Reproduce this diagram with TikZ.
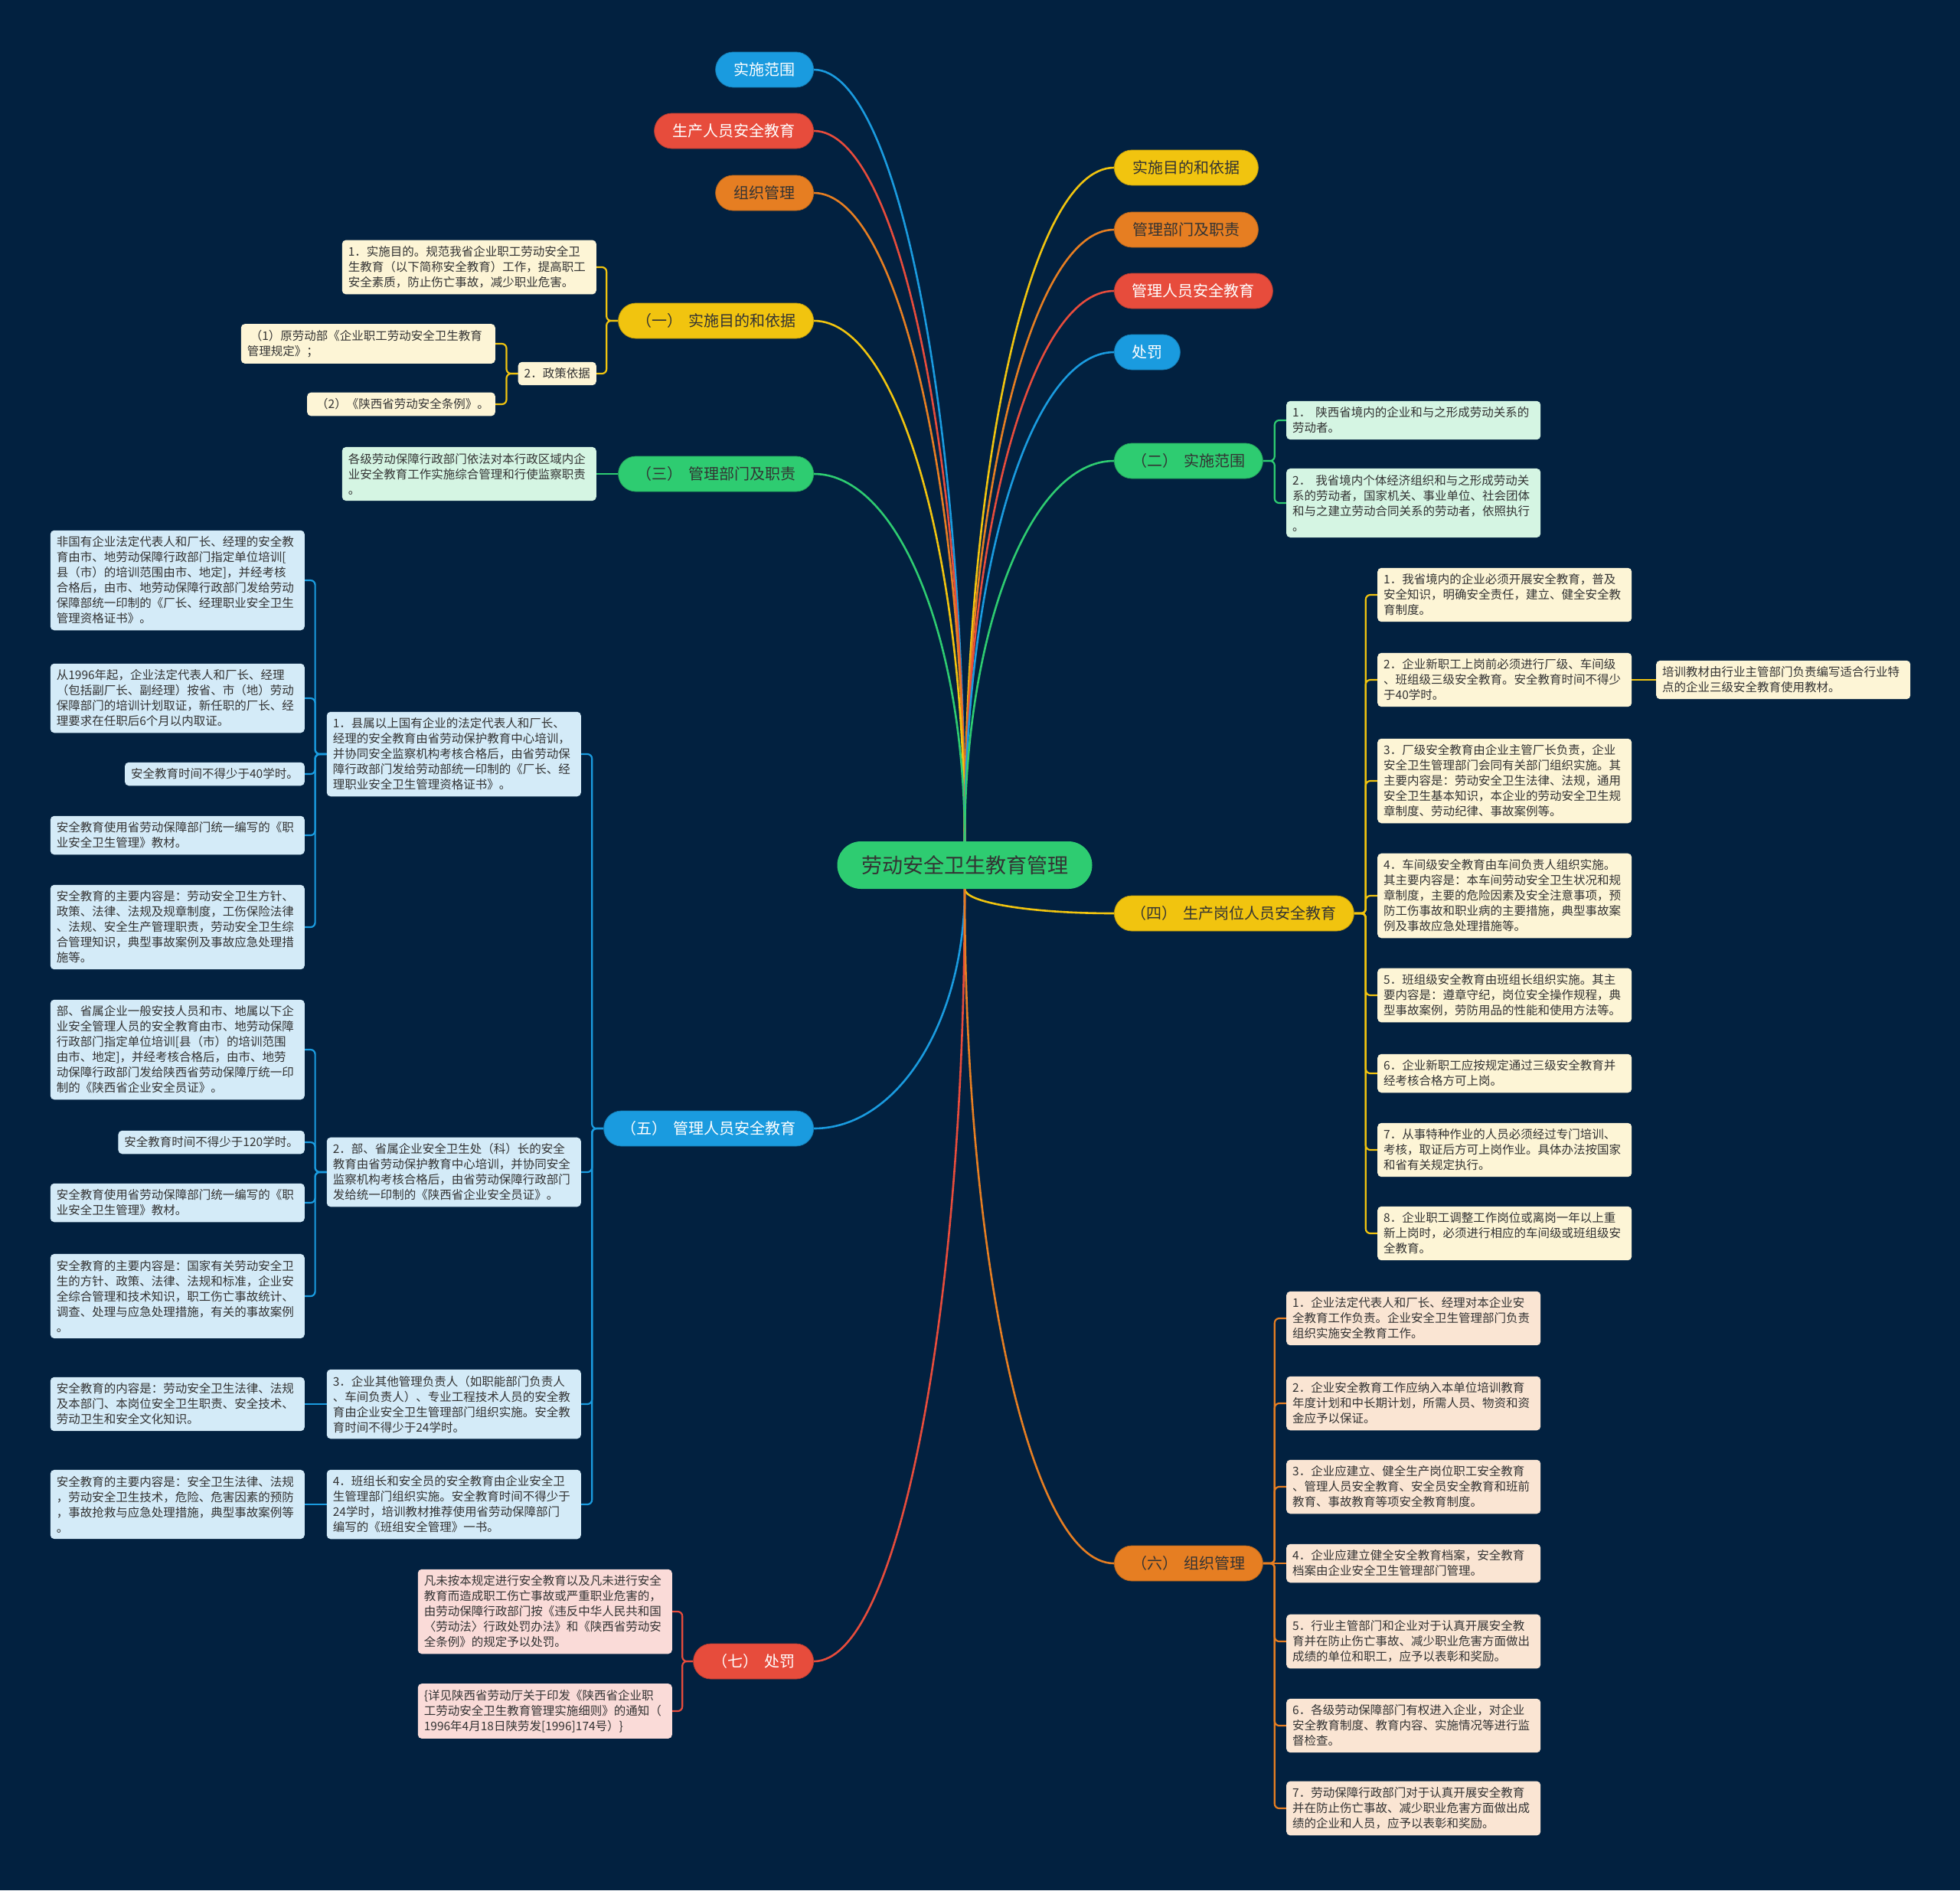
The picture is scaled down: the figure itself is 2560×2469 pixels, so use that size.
\documentclass[tikz,border=0pt]{standalone}
\usepackage{fontspec}
\setmainfont{Noto Sans CJK SC}
\usetikzlibrary{calc}
\definecolor{bgc}{HTML}{022140}
\definecolor{txt}{HTML}{333333}
\definecolor{cBlue}{HTML}{1A9BDF}
\definecolor{cRed}{HTML}{E74C3C}
\definecolor{cOrange}{HTML}{E67E22}
\definecolor{cYellow}{HTML}{F1C40F}
\definecolor{cGreen}{HTML}{2ECC71}
\definecolor{kY}{HTML}{FDF5D6}
\definecolor{kG}{HTML}{D5F5E3}
\definecolor{kB}{HTML}{D4EBF8}
\definecolor{kO}{HTML}{FAE5D3}
\definecolor{kR}{HTML}{FADBD8}
\pgfdeclarelayer{back}
\pgfdeclarelayer{lines}
\pgfsetlayers{back,lines,main}
\newcommand{\mmup}[3]{\draw[link,#1] (root.north) .. controls ($(root.north)!0.55!(root.north |- #2)$) and ($(#2)+(#3,0)$) .. (#2);}
\newcommand{\mmdown}[3]{\draw[link,#1] (root.south) .. controls ($(root.south)!0.55!(root.south |- #2)$) and ($(#2)+(#3,0)$) .. (#2);}
\begin{document}
\begin{tikzpicture}[x=1pt,y=-1pt,
  topnode/.style={fill=#1, draw=#1!80!black, line width=0.8pt, rounded corners=23pt, minimum height=46pt, inner xsep=10pt, inner ysep=0pt, font=\fontsize{20}{24}\selectfont},
  kid/.style={fill=#1, rounded corners=5pt, inner xsep=8pt, inner ysep=8pt, font=\fontsize{15.5}{20}\selectfont, text=txt, align=left},
  wide/.style={text width=316pt},
  link/.style={line width=2.6pt},
  klink/.style={line width=2.2pt, rounded corners=6pt},
]
\begin{pgfonlayer}{back}
\fill[bgc] (0,0) rectangle (2560,2469);
\end{pgfonlayer}
\useasboundingbox (0,0) rectangle (2560,2469);

% root
\node[fill=cGreen, rounded corners=31pt, minimum width=333pt, minimum height=62pt, font=\fontsize{27}{32}\selectfont, text=txt] (root) at (1260,1130) {劳动安全卫生教育管理};

% left top-level
\node[topnode=cBlue, text=white, minimum width=128pt, anchor=east] (l1) at (1063,91) {实施范围};
\node[topnode=cRed, text=white, minimum width=208pt, anchor=east] (l2) at (1063,171) {生产人员安全教育};
\node[topnode=cOrange, text=txt, minimum width=128pt, anchor=east] (l3) at (1063,252) {组织管理};
\node[topnode=cYellow, text=txt, minimum width=255pt, anchor=east] (s1) at (1063,419) {（一）\hspace{8pt}实施目的和依据};
\node[topnode=cGreen, text=txt, minimum width=255pt, anchor=east] (s3) at (1063,619) {（三）\hspace{8pt}管理部门及职责};
\node[topnode=cBlue, text=white, minimum width=274pt, anchor=east] (s5) at (1063,1474) {（五）\hspace{8pt}管理人员安全教育};
\node[topnode=cRed, text=white, minimum width=157pt, anchor=east] (s7) at (1063,2170) {（七）\hspace{8pt}处罚};

% right top-level
\node[topnode=cYellow, text=txt, minimum width=188pt, anchor=west] (r1) at (1455,219) {实施目的和依据};
\node[topnode=cOrange, text=txt, minimum width=188pt, anchor=west] (r2) at (1455,300) {管理部门及职责};
\node[topnode=cRed, text=white, minimum width=207pt, anchor=west] (r3) at (1455,380) {管理人员安全教育};
\node[topnode=cBlue, text=white, minimum width=86pt, anchor=west] (r4) at (1455,460) {处罚};
\node[topnode=cGreen, text=txt, minimum width=194pt, anchor=west] (s2) at (1455,602) {（二）\hspace{8pt}实施范围};
\node[topnode=cYellow, text=txt, minimum width=313pt, anchor=west] (s4) at (1455,1193) {（四）\hspace{8pt}生产岗位人员安全教育};
\node[topnode=cOrange, text=txt, minimum width=194pt, anchor=west] (s6) at (1455,2042) {（六）\hspace{8pt}组织管理};

% (一)
\node[kid=kY, wide, anchor=east] (a1) at (779,349) {1．实施目的。规范我省企业职工劳动安全卫\\生教育（以下简称安全教育）工作，提高职工\\安全素质，防止伤亡事故，减少职业危害。};
\node[kid=kY, anchor=east] (a2) at (779,488) {2．政策依据};
\node[kid=kY, wide, anchor=east] (a21) at (647,449) {\hspace{4pt}（1）原劳动部《企业职工劳动安全卫生教育\\管理规定》；};
\node[kid=kY, anchor=east] (a22) at (647,528) {\hspace{4pt}（2）《陕西省劳动安全条例》。};

% (三)
\node[kid=kG, wide, anchor=east] (c31) at (779,619) {各级劳动保障行政部门依法对本行政区域内企\\业安全教育工作实施综合管理和行使监察职责\\。};

% (五)
\node[kid=kB, wide, anchor=east] (b1) at (759,985) {1．县属以上国有企业的法定代表人和厂长、\\经理的安全教育由省劳动保护教育中心培训，\\并协同安全监察机构考核合格后，由省劳动保\\障行政部门发给劳动部统一印制的《厂长、经\\理职业安全卫生管理资格证书》。};
\node[kid=kB, wide, anchor=east] (b2) at (759,1531) {2．部、省属企业安全卫生处（科）长的安全\\教育由省劳动保护教育中心培训，并协同安全\\监察机构考核合格后，由省劳动保障行政部门\\发给统一印制的《陕西省企业安全员证》。};
\node[kid=kB, wide, anchor=east] (b3) at (759,1834) {3．企业其他管理负责人（如职能部门负责人\\、车间负责人）、专业工程技术人员的安全教\\育由企业安全卫生管理部门组织实施。安全教\\育时间不得少于24学时。};
\node[kid=kB, wide, anchor=east] (b4) at (759,1965) {4．班组长和安全员的安全教育由企业安全卫\\生管理部门组织实施。安全教育时间不得少于\\24学时，培训教材推荐使用省劳动保障部门\\编写的《班组安全管理》一书。};

\node[kid=kB, wide, anchor=east] (k11) at (398,758) {非国有企业法定代表人和厂长、经理的安全教\\育由市、地劳动保障行政部门指定单位培训[\\县（市）的培训范围由市、地定]，并经考核\\合格后，由市、地劳动保障行政部门发给劳动\\保障部统一印制的《厂长、经理职业安全卫生\\管理资格证书》。};
\node[kid=kB, wide, anchor=east] (k12) at (398,912) {从1996年起，企业法定代表人和厂长、经理\\（包括副厂长、副经理）按省、市（地）劳动\\保障部门的培训计划取证，新任职的厂长、经\\理要求在任职后6个月以内取证。};
\node[kid=kB, anchor=east] (k13) at (398,1011) {安全教育时间不得少于40学时。};
\node[kid=kB, wide, anchor=east] (k14) at (398,1091) {安全教育使用省劳动保障部门统一编写的《职\\业安全卫生管理》教材。};
\node[kid=kB, wide, anchor=east] (k15) at (398,1211) {安全教育的主要内容是：劳动安全卫生方针、\\政策、法律、法规及规章制度，工伤保险法律\\、法规、安全生产管理职责，劳动安全卫生综\\合管理知识，典型事故案例及事故应急处理措\\施等。};

\node[kid=kB, wide, anchor=east] (k21) at (398,1371) {部、省属企业一般安技人员和市、地属以下企\\业安全管理人员的安全教育由市、地劳动保障\\行政部门指定单位培训[县（市）的培训范围\\由市、地定]，并经考核合格后，由市、地劳\\动保障行政部门发给陕西省劳动保障厅统一印\\制的《陕西省企业安全员证》。};
\node[kid=kB, anchor=east] (k22) at (398,1492) {安全教育时间不得少于120学时。};
\node[kid=kB, wide, anchor=east] (k23) at (398,1571) {安全教育使用省劳动保障部门统一编写的《职\\业安全卫生管理》教材。};
\node[kid=kB, wide, anchor=east] (k24) at (398,1693) {安全教育的主要内容是：国家有关劳动安全卫\\生的方针、政策、法律、法规和标准，企业安\\全综合管理和技术知识，职工伤亡事故统计、\\调查、处理与应急处理措施，有关的事故案例\\。};

\node[kid=kB, wide, anchor=east] (k31) at (398,1834) {安全教育的内容是：劳动安全卫生法律、法规\\及本部门、本岗位安全卫生职责、安全技术、\\劳动卫生和安全文化知识。};
\node[kid=kB, wide, anchor=east] (k41) at (398,1965) {安全教育的主要内容是：安全卫生法律、法规\\，劳动安全卫生技术，危险、危害因素的预防\\，事故抢救与应急处理措施，典型事故案例等\\。};

% (七)
\node[kid=kR, wide, anchor=east] (e1) at (878,2105) {凡未按本规定进行安全教育以及凡未进行安全\\教育而造成职工伤亡事故或严重职业危害的，\\由劳动保障行政部门按《违反中华人民共和国\\〈劳动法〉行政处罚办法》和《陕西省劳动安\\全条例》的规定予以处罚。};
\node[kid=kR, wide, anchor=east] (e2) at (878,2235) {\{详见陕西省劳动厅关于印发《陕西省企业职\\工劳动安全卫生教育管理实施细则》的通知（\\1996年4月18日陕劳发[1996]174号）\}};

% (二)
\node[kid=kG, wide, anchor=west] (f1) at (1680,549) {1．\hspace{6pt}陕西省境内的企业和与之形成劳动关系的\\劳动者。};
\node[kid=kG, wide, anchor=west] (f2) at (1680,657) {2．\hspace{6pt}我省境内个体经济组织和与之形成劳动关\\系的劳动者，国家机关、事业单位、社会团体\\和与之建立劳动合同关系的劳动者，依照执行\\。};

% (四)
\node[kid=kY, wide, anchor=west] (g1) at (1799,777) {1．我省境内的企业必须开展安全教育，普及\\安全知识，明确安全责任，建立、健全安全教\\育制度。};
\node[kid=kY, wide, anchor=west] (g2) at (1799,888) {2．企业新职工上岗前必须进行厂级、车间级\\、班组级三级安全教育。安全教育时间不得少\\于40学时。};
\node[kid=kY, wide, anchor=west] (g21) at (2163,888) {培训教材由行业主管部门负责编写适合行业特\\点的企业三级安全教育使用教材。};
\node[kid=kY, wide, anchor=west] (g3) at (1799,1020) {3．厂级安全教育由企业主管厂长负责，企业\\安全卫生管理部门会同有关部门组织实施。其\\主要内容是：劳动安全卫生法律、法规，通用\\安全卫生基本知识，本企业的劳动安全卫生规\\章制度、劳动纪律、事故案例等。};
\node[kid=kY, wide, anchor=west] (g4) at (1799,1170) {4．车间级安全教育由车间负责人组织实施。\\其主要内容是：本车间劳动安全卫生状况和规\\章制度，主要的危险因素及安全注意事项，预\\防工伤事故和职业病的主要措施，典型事故案\\例及事故应急处理措施等。};
\node[kid=kY, wide, anchor=west] (g5) at (1799,1300) {5．班组级安全教育由班组长组织实施。其主\\要内容是：遵章守纪，岗位安全操作规程，典\\型事故案例，劳防用品的性能和使用方法等。};
\node[kid=kY, wide, anchor=west] (g6) at (1799,1402) {6．企业新职工应按规定通过三级安全教育并\\经考核合格方可上岗。};
\node[kid=kY, wide, anchor=west] (g7) at (1799,1502) {7．从事特种作业的人员必须经过专门培训、\\考核，取证后方可上岗作业。具体办法按国家\\和省有关规定执行。};
\node[kid=kY, wide, anchor=west] (g8) at (1799,1611) {8．企业职工调整工作岗位或离岗一年以上重\\新上岗时，必须进行相应的车间级或班组级安\\全教育。};

% (六)
\node[kid=kO, wide, anchor=west] (d1) at (1680,1722) {1．企业法定代表人和厂长、经理对本企业安\\全教育工作负责。企业安全卫生管理部门负责\\组织实施安全教育工作。};
\node[kid=kO, wide, anchor=west] (d2) at (1680,1833) {2．企业安全教育工作应纳入本单位培训教育\\年度计划和中长期计划，所需人员、物资和资\\金应予以保证。};
\node[kid=kO, wide, anchor=west] (d3) at (1680,1942) {3．企业应建立、健全生产岗位职工安全教育\\、管理人员安全教育、安全员安全教育和班前\\教育、事故教育等项安全教育制度。};
\node[kid=kO, wide, anchor=west] (d4) at (1680,2042) {4．企业应建立健全安全教育档案，安全教育\\档案由企业安全卫生管理部门管理。};
\node[kid=kO, wide, anchor=west] (d5) at (1680,2144) {5．行业主管部门和企业对于认真开展安全教\\育并在防止伤亡事故、减少职业危害方面做出\\成绩的单位和职工，应予以表彰和奖励。};
\node[kid=kO, wide, anchor=west] (d6) at (1680,2254) {6．各级劳动保障部门有权进入企业，对企业\\安全教育制度、教育内容、实施情况等进行监\\督检查。};
\node[kid=kO, wide, anchor=west] (d7) at (1680,2362) {7．劳动保障行政部门对于认真开展安全教育\\并在防止伤亡事故、减少职业危害方面做出成\\绩的企业和人员，应予以表彰和奖励。};

\begin{pgfonlayer}{lines}
% root links
\mmup{cBlue}{l1.east}{110}
\mmup{cRed}{l2.east}{110}
\mmup{cOrange}{l3.east}{110}
\mmup{cYellow}{s1.east}{110}
\mmup{cGreen}{s3.east}{110}
\mmdown{cBlue}{s5.east}{110}
\mmdown{cRed}{s7.east}{110}
\mmup{cYellow}{r1.west}{-110}
\mmup{cOrange}{r2.west}{-110}
\mmup{cRed}{r3.west}{-110}
\mmup{cBlue}{r4.west}{-110}
\mmup{cGreen}{s2.west}{-110}
\mmdown{cYellow}{s4.west}{-110}
\mmdown{cOrange}{s6.west}{-110}

% (一)
\draw[klink,cYellow] (s1.west) -- ++(-15,0) |- (a1.east);
\draw[klink,cYellow] (s1.west) -- ++(-15,0) |- (a2.east);
\draw[klink,cYellow] (a2.west) -- ++(-15,0) |- (a21.east);
\draw[klink,cYellow] (a2.west) -- ++(-15,0) |- (a22.east);
% (三)
\draw[klink,cGreen] (s3.west) -- (c31.east);
% (五)
\foreach \k in {b1,b2,b3,b4} {\draw[klink,cBlue] (s5.west) -- ++(-15,0) |- (\k.east);}
\foreach \k in {k11,k12,k13,k14,k15} {\draw[klink,cBlue] (b1.west) -- ++(-15,0) |- (\k.east);}
\foreach \k in {k21,k22,k23,k24} {\draw[klink,cBlue] (b2.west) -- ++(-15,0) |- (\k.east);}
\draw[klink,cBlue] (b3.west) -- (k31.east);
\draw[klink,cBlue] (b4.west) -- (k41.east);
% (七)
\foreach \k in {e1,e2} {\draw[klink,cRed] (s7.west) -- ++(-14,0) |- (\k.east);}
% (二)
\foreach \k in {f1,f2} {\draw[klink,cGreen] (s2.east) -- ++(15,0) |- (\k.west);}
% (四)
\foreach \k in {g1,g2,g3,g4,g5,g6,g7,g8} {\draw[klink,cYellow] (s4.east) -- ++(15,0) |- (\k.west);}
\draw[klink,cYellow] (g2.east) -- (g21.west);
% (六)
\foreach \k in {d1,d2,d3,d5,d6,d7} {\draw[klink,cOrange] (s6.east) -- ++(15,0) |- (\k.west);}
\draw[klink,cOrange] (s6.east) -- (d4.west);
\end{pgfonlayer}
\end{tikzpicture}
\end{document}
